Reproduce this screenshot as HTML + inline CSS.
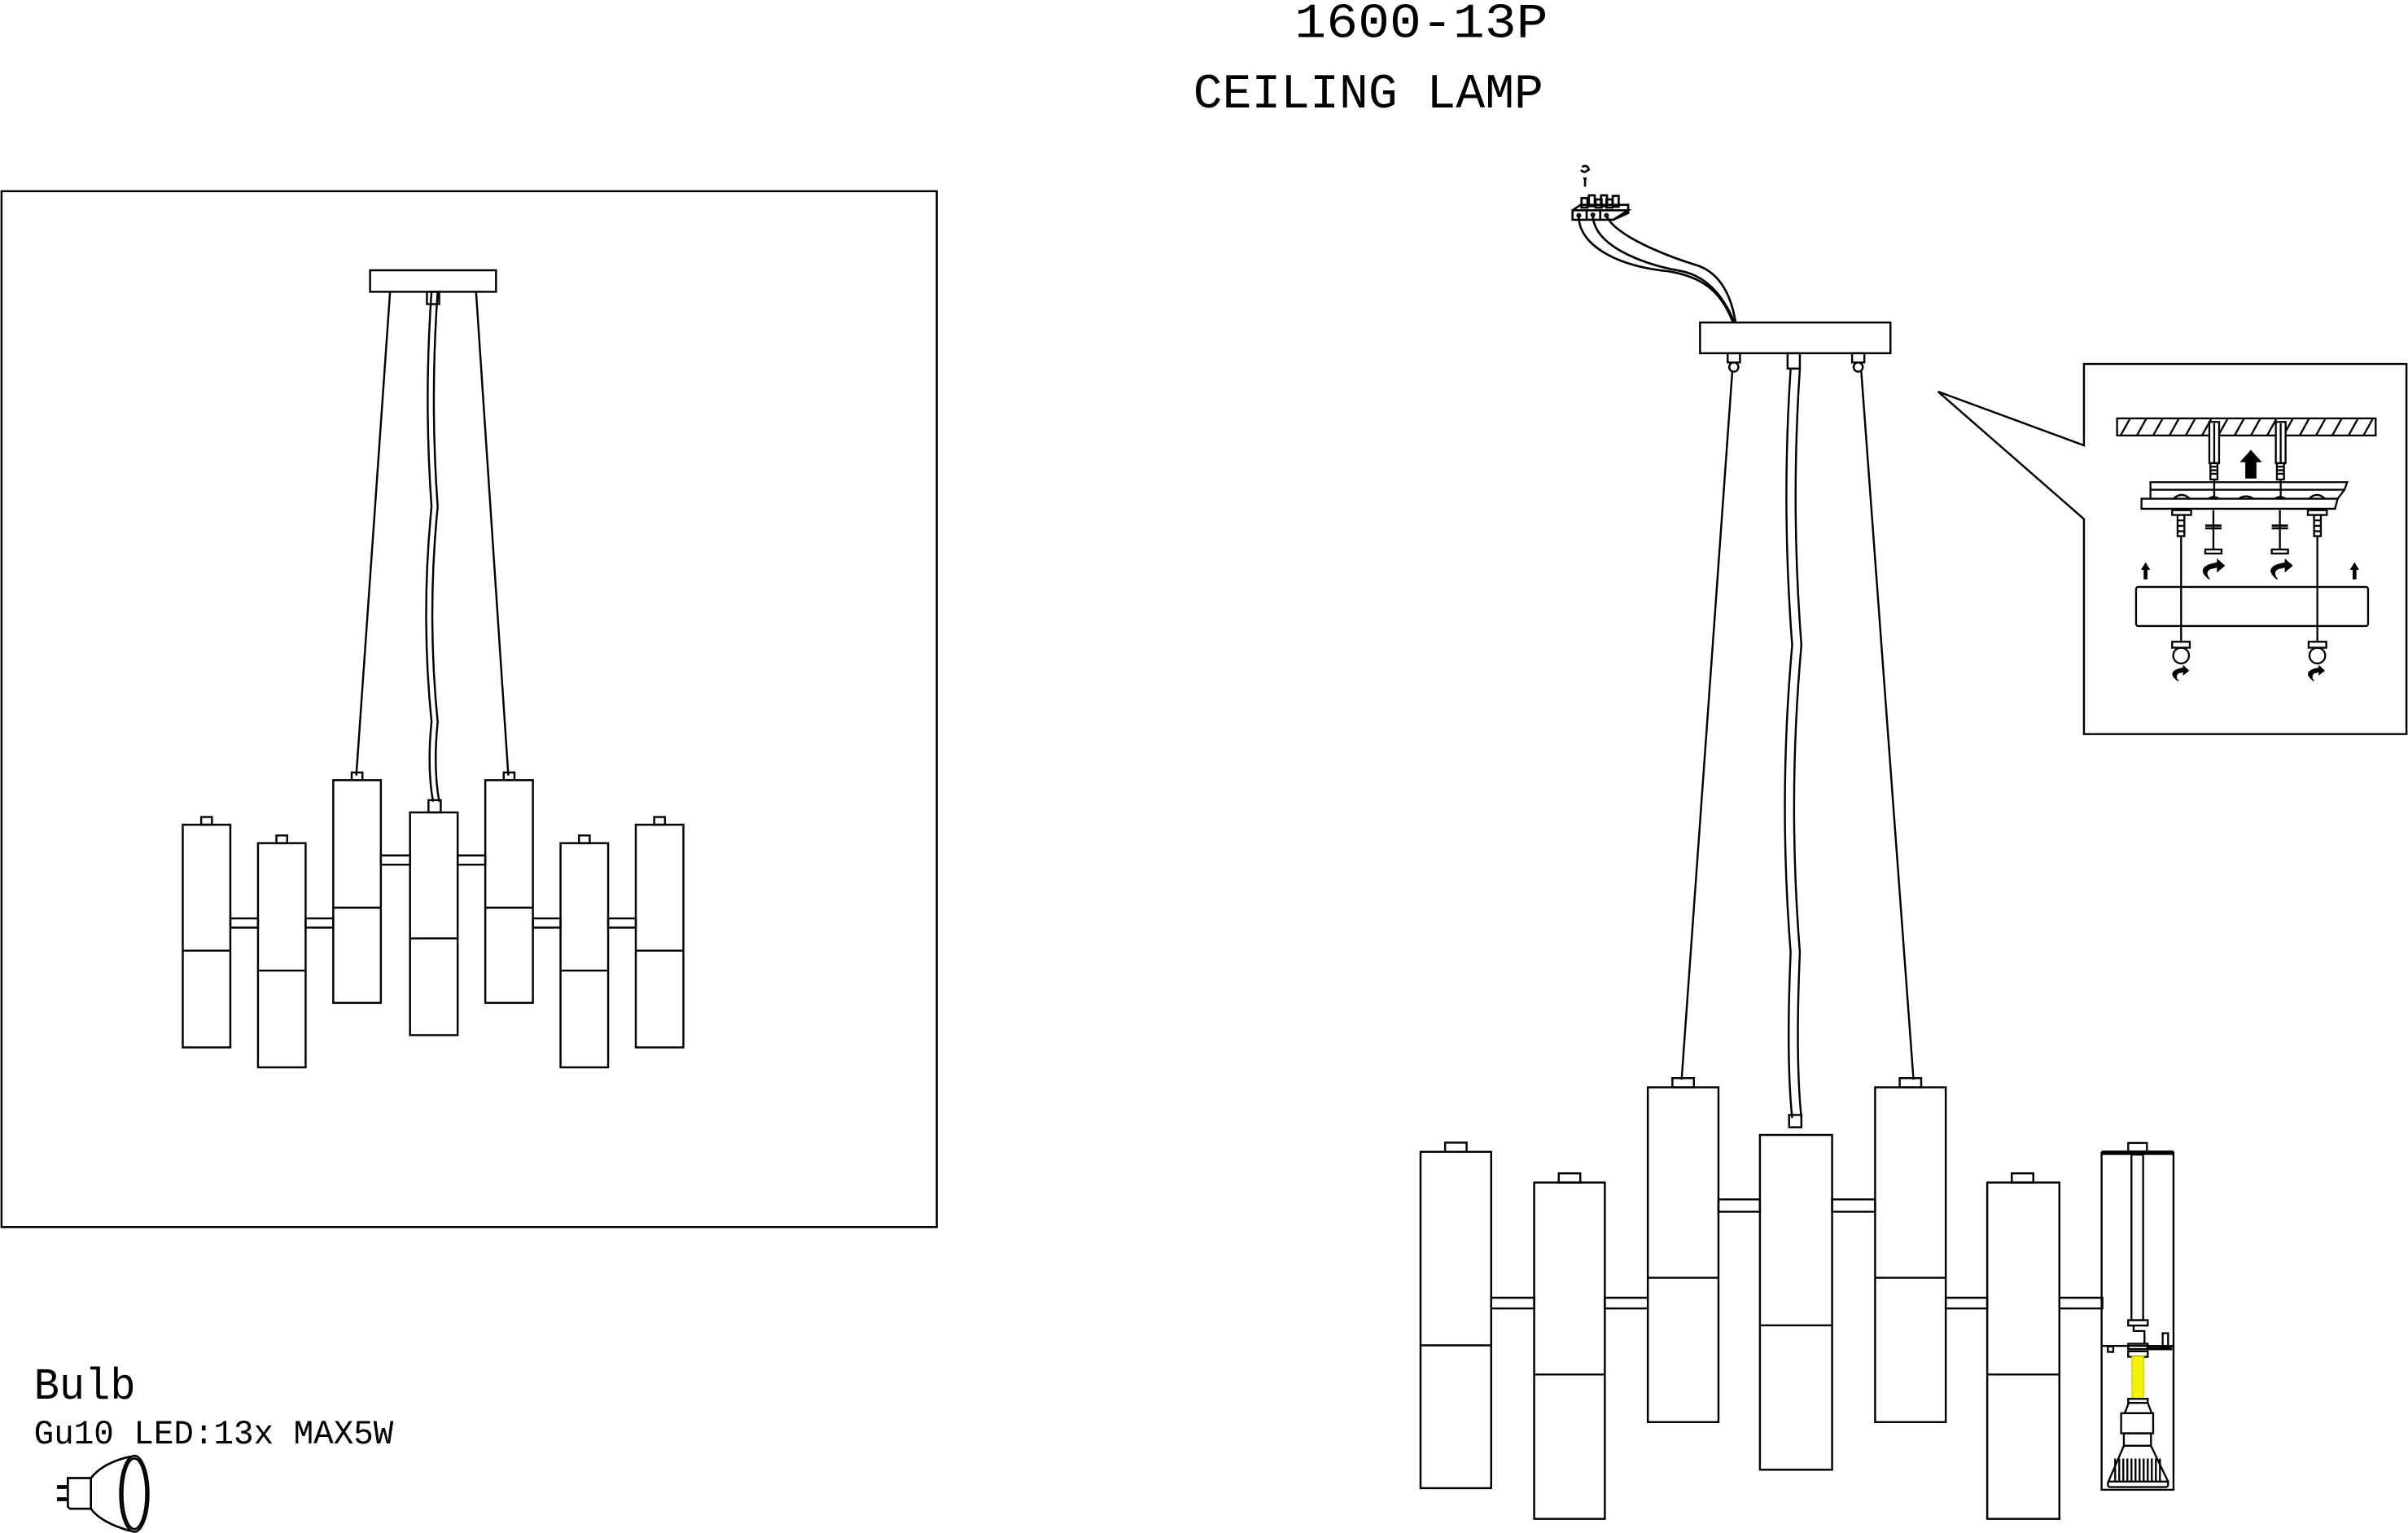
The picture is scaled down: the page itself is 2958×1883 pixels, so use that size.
<!DOCTYPE html>
<html><head><meta charset="utf-8"><style>
html,body{margin:0;padding:0;background:#fff;width:2958px;height:1883px;overflow:hidden}
svg{display:block}
text{font-family:"Liberation Mono","Liberation Serif",monospace;fill:#000}
</style></head><body>
<svg width="2958" height="1883" viewBox="0 0 1568 998.2" preserveAspectRatio="none" xmlns="http://www.w3.org/2000/svg">
<rect width="1568" height="998.2" fill="#fff"/>
<g fill="none" stroke="#000" stroke-width="1.3">
<text x="843" y="24" font-size="32" textLength="165" lengthAdjust="spacingAndGlyphs" stroke="none">1600-13P</text>
<text x="777" y="70" font-size="32" textLength="228" lengthAdjust="spacingAndGlyphs" stroke="none">CEILING LAMP</text>

<rect x="1" y="124.5" width="609" height="674.5"/>
<rect x="241" y="176" width="82" height="14"/>
<line x1="254" y1="190" x2="232" y2="505"/>
<line x1="310" y1="190" x2="331" y2="505"/>
<path d="M281 190 Q276 260 281 330 Q274 400 281 470 Q278 500 282 522 M285 190 Q280 260 285 330 Q278 400 285 470 Q282 500 286 522"/>
<rect x="278" y="190" width="8" height="8"/>
<rect x="279" y="521" width="8" height="8"/>
<path d="M150 598h18v6h-18zM199 598h18v6h-18zM248 557h19v6h-19zM298 557h18v6h-18zM347 598h18v6h-18zM396 598h18v6h-18z"/>
<g>
<rect x="119" y="537" width="31" height="145"/><line x1="119" y1="619" x2="150" y2="619"/><rect x="131" y="532" width="7" height="5"/>
<rect x="168" y="549" width="31" height="146"/><line x1="168" y1="632" x2="199" y2="632"/><rect x="180" y="544" width="7" height="5"/>
<rect x="217" y="508" width="31" height="145"/><line x1="217" y1="591" x2="248" y2="591"/><rect x="229" y="503" width="7" height="5"/>
<rect x="267" y="529" width="31" height="145"/><line x1="267" y1="611" x2="298" y2="611"/>
<rect x="316" y="508" width="31" height="145"/><line x1="316" y1="591" x2="347" y2="591"/><rect x="328" y="503" width="7" height="5"/>
<rect x="365" y="549" width="31" height="146"/><line x1="365" y1="632" x2="396" y2="632"/><rect x="377" y="544" width="7" height="5"/>
<rect x="414" y="537" width="31" height="145"/><line x1="414" y1="619" x2="445" y2="619"/><rect x="426" y="532" width="7" height="5"/>
</g>

<rect x="1107" y="210" width="124" height="20"/>
<rect x="1125" y="230" width="8" height="6"/><circle cx="1129" cy="239" r="3"/>
<rect x="1164" y="230" width="8" height="10"/>
<rect x="1206" y="230" width="8" height="6"/><circle cx="1210" cy="239" r="3"/>
<line x1="1128" y1="242" x2="1095" y2="703"/>
<line x1="1212" y1="242" x2="1246" y2="703"/>
<path d="M1166 240 Q1160 330 1167 420 Q1158 520 1166 620 Q1163 690 1167 728 M1172 240 Q1166 330 1173 420 Q1164 520 1172 620 Q1169 690 1173 728"/>
<rect x="1165" y="726" width="8" height="8"/>
<path d="M971 845h28v7h-28zM1045 845h28v7h-28zM1119 781h27v8h-27zM1193 781h28v8h-28zM1267 845h27v7h-27zM1341 845h28v7h-28z"/>
<rect x="925" y="750" width="46" height="219"/><line x1="925" y1="876" x2="971" y2="876"/><rect x="941" y="744" width="14" height="6"/>
<rect x="999" y="770" width="46" height="219"/><line x1="999" y1="895" x2="1045" y2="895"/><rect x="1015" y="764" width="14" height="6"/>
<rect x="1073" y="708" width="46" height="218"/><line x1="1073" y1="832" x2="1119" y2="832"/><rect x="1089" y="702" width="14" height="6"/>
<rect x="1146" y="739" width="47" height="218"/><line x1="1146" y1="863" x2="1193" y2="863"/>
<rect x="1221" y="708" width="46" height="218"/><line x1="1221" y1="832" x2="1267" y2="832"/><rect x="1237" y="702" width="14" height="6"/>
<rect x="1294" y="770" width="47" height="219"/><line x1="1294" y1="895" x2="1341" y2="895"/><rect x="1310" y="764" width="14" height="6"/>

<g transform="translate(1357,731.5) scale(0.1767)" stroke-width="7">
<rect x="65" y="108" width="265" height="1242"/>
<line x1="65" y1="108" x2="330" y2="108" stroke-width="16"/>
<rect x="163" y="72" width="69" height="36"/>
<rect x="175" y="115" width="43" height="610"/>
<line x1="65" y1="820" x2="330" y2="820"/>
<line x1="230" y1="830" x2="325" y2="830" stroke-width="12"/>
<rect x="88" y="822" width="20" height="20"/>
<rect x="290" y="773" width="20" height="50"/>
<path d="M163 725h72v20h-72zM163 745h20v20h40v50M163 812h72v20h-72zM163 840h72v20h-72z"/>
<rect x="177" y="858" width="43" height="157" fill="#f2f20a" stroke="#c8c800" stroke-dasharray="4 3"/>
<path d="M163 1015h72v15h-72z"/>
<path d="M165 1030L150 1068H250L235 1030"/>
<rect x="137" y="1068" width="118" height="74"/>
<rect x="147" y="1142" width="100" height="46"/>
<path d="M147 1188L90 1320H310L247 1188Z"/>
<path d="M115 1235v85M130 1235v85M145 1235v85M160 1235v85M175 1235v85M190 1235v85M205 1235v85M220 1235v85M235 1235v85M250 1235v85M265 1235v85M280 1235v85"/>
<rect x="88" y="1320" width="222" height="20" rx="8"/>
</g>

<g transform="translate(1007.2,100.7) scale(0.1767)" stroke-width="8">
<path d="M130 45 Q150 35 155 55 L140 65 M125 58 L140 65"/>
<path d="M135 88h12M141 88v30"/>
<path d="M95 205H300L245 240H95Z"/>
<path d="M95 205L125 185H300V215L245 240"/>
<rect x="128" y="160" width="22" height="35"/><rect x="155" y="150" width="22" height="40"/><rect x="180" y="165" width="22" height="30"/><rect x="200" y="150" width="22" height="40"/><rect x="220" y="165" width="22" height="30"/><rect x="243" y="152" width="22" height="40"/>
<line x1="147" y1="205" x2="147" y2="240"/><line x1="197" y1="205" x2="197" y2="240"/>
<circle cx="118" cy="224" r="5"/><circle cx="170" cy="222" r="5"/><circle cx="220" cy="224" r="5"/>
<path d="M118 230 C120 330 250 410 450 430 C570 450 640 500 685 615"/>
<path d="M170 230 C180 330 330 400 500 430 C590 450 650 520 690 615"/>
<path d="M222 230 C260 300 430 370 560 410 C640 440 680 520 695 615"/>
</g>

<path d="M1357 237H1567V478H1357V338L1262 255L1357 290Z"/>
<g transform="translate(1351.7,233.2) scale(0.1767)" stroke-width="7">
<rect x="152" y="222" width="953" height="63"/>
<path d="M165 285L200 222M225 285L260 222M285 285L320 222M345 285L380 222M405 285L440 222M465 285L500 222M525 285L560 222M585 285L620 222M645 285L680 222M705 285L740 222M765 285L800 222M825 285L860 222M885 285L920 222M945 285L980 222M1005 285L1040 222M1060 285L1095 222"/>
<rect x="492" y="235" width="36" height="152" fill="#fff"/><rect x="737" y="235" width="36" height="152" fill="#fff"/>
<line x1="510" y1="240" x2="510" y2="385"/><line x1="755" y1="240" x2="755" y2="385"/>
<path d="M496 387h26v60h-26zM741 387h26v60h-26zM496 400h26M496 413h26M496 426h26M741 400h26M741 413h26M741 426h26"/>
<path d="M628 440V380H612L645 343L678 380H662V440Z" fill="#000"/>
<path d="M275 457H1000L990 485H275Z"/>
<path d="M242 518H965L955 555H242Z"/>
<path d="M275 485V518M990 485L965 518"/>
<path d="M360 518Q390 490 420 518M488 518Q507 505 528 518M600 518Q627 500 655 518M733 518Q753 505 773 518M860 518Q888 490 918 518"/>
<line x1="510" y1="447" x2="510" y2="510"/><line x1="755" y1="447" x2="755" y2="510"/>
<path d="M355 560h70v18h-70zM855 560h70v18h-70zM375 578h25v78h-25zM878 578h25v78h-25zM375 598h25M375 618h25M375 638h25M878 598h25M878 618h25M878 638h25"/>
<line x1="388" y1="656" x2="388" y2="1045"/><line x1="890" y1="656" x2="890" y2="1045"/>
<line x1="507" y1="560" x2="507" y2="705"/><line x1="752" y1="560" x2="752" y2="705"/>
<path d="M477 617h60M477 627h60M722 617h60M722 627h60" stroke-width="8"/>
<rect x="477" y="705" width="60" height="15"/><rect x="722" y="705" width="60" height="15"/>
<g fill="#000" stroke="none">
<path d="M490 815Q445 780 490 760L520 752V738L550 765L520 790V772L495 778Q475 790 495 815Z"/>
<path d="M740 815Q695 780 740 760L770 752V738L800 765L770 790V772L745 778Q725 790 745 815Z"/>
<path d="M375 1190Q335 1160 375 1145L395 1140V1130L418 1152L395 1170V1158L378 1162Q365 1175 380 1190Z"/>
<path d="M875 1190Q835 1160 875 1145L895 1140V1130L918 1152L895 1170V1158L878 1162Q865 1175 880 1190Z"/>
<path d="M250 815V780H240L257 752L274 780H264V815Z"/>
<path d="M1020 815V780H1010L1027 752L1044 780H1034V815Z"/>
</g>
<rect x="222" y="843" width="855" height="144" rx="8"/>
<rect x="355" y="1045" width="65" height="22"/><circle cx="388" cy="1096" r="29"/>
<rect x="858" y="1045" width="65" height="22"/><circle cx="890" cy="1096" r="29"/>
</g>

<g transform="translate(0,869.3) scale(0.1767)" stroke-width="8">
<text x="125" y="235" font-size="165" textLength="375" lengthAdjust="spacingAndGlyphs" stroke="none">Bulb</text>
<text x="125" y="400" font-size="125" textLength="1325" lengthAdjust="spacingAndGlyphs" stroke="none">Gu10 LED:13x MAX5W</text>
<path d="M210 560h40M210 605h40" stroke-width="14"/>
<path d="M250 527H335V640H258L250 632Z"/>
<path d="M335 527Q380 470 480 448M335 640Q370 690 480 722"/>
<ellipse cx="495" cy="585" rx="52" ry="140"/>
<ellipse cx="495" cy="585" rx="44" ry="130"/>
</g>
</g>
</svg>
</body></html>
